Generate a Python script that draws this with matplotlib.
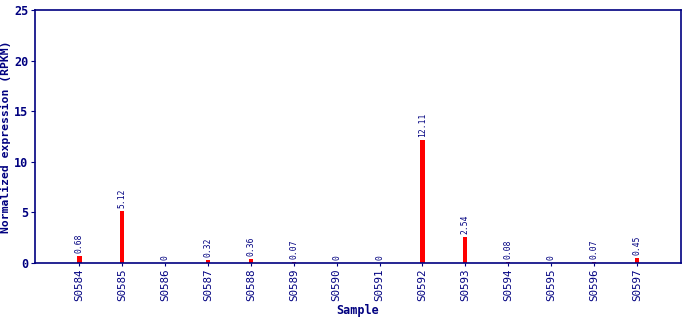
import matplotlib
matplotlib.use("Agg")
import matplotlib.pyplot as plt

# data
samples = ["S0584", "S0585", "S0586", "S0587", "S0588", "S0589", "S0590",
           "S0591", "S0592", "S0593", "S0594", "S0595", "S0596", "S0597"]
values = [0.68, 5.12, 0, 0.32, 0.36, 0.07, 0, 0, 12.11, 2.54, 0.08, 0, 0.07, 0.45]
labels = ["0.68", "5.12", "0", "0.32", "0.36", "0.07", "0", "0", "12.11",
          "2.54", "0.08", "0", "0.07", "0.45"]

navy = "#000080"
plt.rcParams["font.family"] = ["DejaVu Sans Mono"]

fig = plt.figure(figsize=(6.9, 3.2), dpi=100)
ax = fig.add_axes([0.051, 0.178, 0.936, 0.791])

x = list(range(len(samples)))
ax.bar(x, values, width=0.1, color="#ff0000")

for xi, v, lab in zip(x, values, labels):
    ax.text(xi, v + 0.3, lab, rotation=90, ha="center", va="bottom",
            fontsize=5.8, color=navy)

ax.set_xlim(-1.03, 14.03)
ax.set_ylim(0, 25)
ax.set_yticks([0, 5, 10, 15, 20, 25])
ax.set_xticks(x)
ax.set_xticklabels(samples, rotation=90, fontsize=7.8, color=navy)
for lab in ax.get_yticklabels():
    lab.set_fontweight("bold")
    lab.set_fontsize(8.5)
    lab.set_color(navy)

ax.set_xlabel("Sample", fontsize=8.5, fontweight="bold", color=navy, labelpad=2)
ax.set_ylabel("Normalized expression (RPKM)", fontsize=8.2, fontweight="bold",
              color=navy, labelpad=2)

for s in ax.spines.values():
    s.set_color(navy)
    s.set_linewidth(1.2)
ax.tick_params(axis="y", colors=navy, length=3, pad=2)
ax.tick_params(axis="x", colors=navy, length=2, pad=2)

fig.savefig("out.png", dpi=100)
